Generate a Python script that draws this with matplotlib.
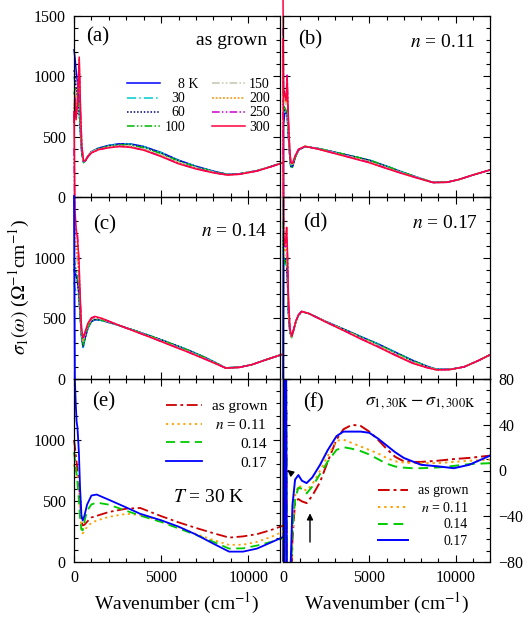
import matplotlib
matplotlib.use("Agg")
import matplotlib.pyplot as plt
from matplotlib.ticker import MultipleLocator, FixedLocator

plt.rcParams['font.family'] = ['Liberation Serif', 'DejaVu Serif']
plt.rcParams['mathtext.fontset'] = 'stix'

# ---------------- data ----------------
temps = ["8 K", "30", "60", "100", "150", "200", "250", "300"]

# panel (a) as grown
wa = [0, 60, 120, 200, 300, 380, 450, 550, 650, 800, 1000, 1400, 2000, 2600, 3200, 4000, 5000, 6000, 7000, 8000, 8800, 9500, 10500, 11300, 12000]
a_8 = [1220, 1150, 1050, 950, 800, 520, 360, 290, 300, 340, 376, 405, 428, 441, 441, 419, 369, 305, 255, 214, 188, 193, 218, 253, 286]
a_30 = [1000, 950, 880, 820, 680, 500, 350, 285, 298, 338, 374, 404, 427, 440, 440, 418, 368, 304, 254, 213, 187, 192, 218, 253, 286]
a_60 = [1050, 1000, 900, 850, 700, 520, 360, 290, 300, 340, 375, 403, 425, 438, 437, 415, 365, 302, 252, 212, 187, 192, 218, 253, 286]
a_100 = [850, 900, 820, 800, 750, 560, 370, 285, 295, 335, 370, 400, 420, 432, 430, 408, 358, 296, 248, 210, 186, 192, 218, 253, 286]
a_150 = [750, 880, 750, 850, 1000, 620, 390, 295, 305, 342, 372, 398, 415, 426, 422, 398, 348, 288, 242, 206, 185, 191, 218, 253, 286]
a_200 = [700, 850, 700, 820, 1150, 650, 400, 300, 305, 340, 370, 395, 412, 422, 418, 393, 342, 282, 238, 203, 184, 190, 217, 252, 286]
a_250 = [650, 820, 660, 780, 1100, 680, 410, 295, 300, 335, 365, 392, 410, 420, 415, 390, 338, 278, 235, 202, 183, 189, 216, 251, 285]
a_300 = [620, 800, 640, 760, 1160, 700, 420, 300, 300, 335, 365, 392, 408, 418, 412, 388, 335, 275, 232, 200, 182, 188, 215, 250, 285]

# panel (b) n = 0.11
wb = [0, 30, 100, 180, 240, 300, 380, 450, 550, 700, 900, 1275, 2000, 3000, 4000, 5000, 6000, 7000, 8000, 8700, 9500, 10200, 11000, 12000]
b_8 = [-1500, 600, 690, 700, 690, 530, 360, 255, 250, 326, 389, 417, 403, 371, 339, 305, 255, 202, 152, 121, 122, 145, 182, 224]
b_30 = [700, 700, 710, 700, 680, 540, 360, 250, 245, 325, 389, 418, 404, 372, 340, 307, 257, 203, 153, 122, 123, 145, 182, 224]
b_60 = [800, 720, 720, 700, 690, 550, 365, 255, 250, 326, 390, 418, 403, 371, 338, 304, 254, 201, 152, 121, 122, 145, 182, 224]
b_100 = [900, 760, 740, 720, 700, 560, 370, 250, 245, 325, 390, 419, 404, 372, 340, 306, 256, 202, 153, 122, 123, 145, 182, 224]
b_150 = [1000, 820, 800, 760, 850, 620, 390, 275, 272, 334, 392, 419, 401, 366, 330, 293, 244, 195, 150, 121, 122, 145, 182, 224]
b_200 = [1200, 850, 820, 780, 900, 650, 400, 280, 275, 336, 393, 420, 400, 364, 328, 290, 241, 193, 149, 120, 122, 145, 182, 224]
b_250 = [1400, 880, 840, 820, 1010, 680, 410, 285, 278, 338, 394, 420, 399, 362, 325, 287, 238, 191, 148, 120, 122, 145, 182, 224]
b_300 = [1700, 900, 850, 800, 1000, 700, 420, 290, 280, 340, 395, 420, 398, 360, 322, 284, 236, 190, 148, 120, 122, 145, 182, 224]

# panel (c) n = 0.14
wc = [0, 50, 120, 200, 280, 350, 430, 520, 620, 800, 1000, 1200, 1600, 2500, 3500, 4500, 5500, 6500, 7500, 8000, 8700, 9500, 10200, 11000, 12000]
c_8 = [900, 870, 850, 820, 700, 530, 355, 260, 328, 422, 474, 489, 483, 445, 398, 349, 296, 241, 179, 143, 92, 97, 118, 158, 205]
c_30 = [800, 750, 720, 700, 650, 520, 350, 255, 325, 420, 472, 487, 482, 445, 399, 350, 297, 242, 180, 143, 92, 97, 118, 158, 205]
c_60 = [950, 900, 850, 800, 700, 540, 360, 265, 330, 425, 476, 490, 484, 445, 398, 349, 296, 241, 179, 143, 92, 97, 118, 158, 205]
c_100 = [1000, 950, 900, 850, 750, 560, 370, 280, 340, 430, 480, 494, 486, 446, 398, 348, 295, 240, 178, 142, 92, 97, 118, 158, 205]
c_150 = [1300, 1100, 1050, 950, 850, 620, 390, 310, 365, 445, 492, 505, 492, 446, 394, 342, 287, 231, 170, 138, 91, 96, 118, 158, 205]
c_200 = [1500, 1200, 1100, 1000, 900, 650, 400, 320, 370, 450, 496, 508, 494, 446, 393, 340, 284, 228, 168, 136, 91, 96, 118, 158, 205]
c_250 = [1900, 1300, 1200, 1200, 950, 680, 410, 330, 375, 455, 500, 512, 497, 447, 392, 338, 282, 226, 166, 135, 90, 96, 118, 158, 205]
c_300 = [2200, 1400, 1250, 1150, 1000, 700, 420, 340, 380, 460, 505, 516, 500, 448, 392, 337, 280, 224, 164, 134, 90, 96, 118, 158, 205]

# panel (d) n = 0.17
wd = [0, 40, 100, 160, 210, 260, 310, 400, 500, 600, 750, 900, 1080, 1500, 2500, 3500, 4500, 5500, 6500, 7500, 8300, 8900, 9700, 10500, 11300, 12000]
d_8 = [-1500, 980, 990, 986, 950, 820, 560, 385, 350, 395, 476, 527, 556, 540, 473, 412, 350, 290, 222, 155, 108, 80, 80, 100, 150, 199]
d_30 = [1100, 950, 940, 960, 930, 800, 550, 380, 345, 393, 475, 526, 555, 540, 473, 412, 350, 290, 222, 155, 108, 80, 80, 100, 150, 199]
d_60 = [1200, 980, 960, 980, 950, 820, 560, 385, 342, 392, 474, 525, 554, 539, 472, 411, 348, 287, 219, 152, 106, 79, 79, 100, 150, 199]
d_100 = [1300, 1000, 950, 1000, 1000, 850, 580, 390, 340, 392, 474, 525, 554, 539, 472, 410, 346, 284, 216, 149, 105, 79, 79, 100, 150, 199]
d_150 = [1500, 1050, 1000, 1050, 1100, 900, 620, 400, 345, 394, 475, 526, 555, 539, 471, 406, 340, 276, 207, 141, 100, 77, 79, 100, 150, 199]
d_200 = [1800, 1100, 1050, 1100, 1248, 950, 650, 410, 348, 396, 476, 527, 555, 539, 470, 404, 337, 272, 203, 137, 98, 76, 78, 100, 150, 199]
d_250 = [2200, 1150, 1080, 1100, 1150, 1000, 680, 415, 350, 398, 478, 528, 556, 539, 469, 402, 333, 268, 199, 133, 96, 75, 78, 100, 150, 199]
d_300 = [2800, 1200, 1100, 1150, 1250, 1050, 700, 420, 354, 400, 480, 530, 558, 540, 468, 400, 330, 265, 195, 130, 95, 75, 78, 100, 150, 199]

# panel (e) T = 30 K
samples = ["as grown", "$n$ = 0.11", "0.14", "0.17"]
we = [0, 50, 100, 150, 200, 280, 350, 430, 500, 600, 750, 1000, 1300, 2000, 3000, 3800, 5000, 6000, 7000, 8000, 8900, 9700, 10500, 11300, 12000]
e_asgrown = [1000, 950, 880, 820, 750, 650, 500, 330, 300, 305, 330, 365, 378, 410, 437, 443, 376, 325, 279, 236, 200, 210, 228, 262, 298]
e_011 = [800, 760, 740, 720, 700, 600, 420, 260, 235, 255, 290, 320, 340, 370, 395, 385, 335, 285, 230, 180, 140, 142, 165, 205, 250]
e_014 = [900, 850, 780, 720, 650, 500, 350, 265, 260, 330, 420, 472, 487, 470, 420, 380, 328, 275, 222, 165, 110, 112, 135, 165, 195]
e_017 = [3000, 1500, 1300, 1150, 1100, 900, 600, 380, 340, 380, 470, 545, 553, 510, 447, 395, 342, 290, 225, 150, 85, 85, 110, 160, 205]

# panel (f) sigma1(30K) - sigma1(300K)
wf = [0, 60, 150, 250, 350, 450, 550, 700, 890, 1100, 1370, 1700, 2150, 2600, 3100, 3500, 4000, 4500, 5000, 5500, 6000, 6500, 7000, 7500, 8000, 9000, 9900, 10800, 12000]
f_asgrown = [200, -200, 200, -200, -150, -120, -60, -27, -25, -27, -28.5, -22, -10, 8, 27, 36, 40, 39, 34, 27, 19, 12, 8, 7.5, 7.5, 8.6, 10, 11, 13]
f_011 = [200, -200, 200, -200, -150, -110, -55, -22, -13, -15, -17.8, -12, 0, 13, 26, 27, 24, 21, 18, 15, 11, 8, 7, 6.5, 6.5, 6.5, 7.5, 8.5, 9.5]
f_014 = [200, -200, 200, -200, -150, -100, -50, -25, -15, -16, -20, -14, -3, 8, 18, 20.4, 19, 17, 14, 10, 6, 3.5, 2.5, 2, 2, 2.7, 4, 5.6, 6.4]
f_017 = [200, -200, 200, -200, -150, -80, -30, -8, -4, -9, -11, -6, 5, 18, 30, 34, 34, 34, 33, 28, 22, 16, 11, 8, 5, 3.6, 2, 5, 13]

# ---------------- styles ----------------
t_colors = ["#0000ff", "#00cccc", "#000080", "#00b400", "#c4c4b0", "#ff8c00", "#cc00cc", "#ff0040"]
t_styles = ["-", (0, (6, 2, 1, 2)), (0, (1, 1.2)), (0, (5, 1.5, 1, 1.5, 1, 1.5)),
            (0, (5, 1.5, 1, 1.5, 1, 1.5)), (0, (1.2, 1.2)), (0, (5, 1.5, 1, 1.5, 1, 1.5)), "-"]
s_colors = ["#cc0000", "#ffa000", "#00cc00", "#0000ff"]
s_styles = [(0, (6, 2, 1.5, 2)), (0, (1.2, 2)), (0, (5, 3)), "-"]

fig = plt.figure(figsize=(5.32, 6.32), dpi=100)
W, H = 532.0, 632.0
lx0, lx1 = 74, 280
rx0, rx1 = 283, 490
rows = [(16, 197), (197, 379), (379, 562)]

def mkax(x0, x1, y0, y1):
    ax = fig.add_axes([x0 / W, 1 - y1 / H, (x1 - x0) / W, (y1 - y0) / H])
    ax.patch.set_visible(False)
    return ax

axa = mkax(lx0, lx1, *rows[0]); axb = mkax(rx0, rx1, *rows[0])
axc = mkax(lx0, lx1, *rows[1]); axd = mkax(rx0, rx1, *rows[1])
axe = mkax(lx0, lx1, *rows[2]); axf = mkax(rx0, rx1, *rows[2])

def style(ax, left, bottom, right_labels=False):
    ax.set_xlim(0, 11820 if left else 12000)
    ax.xaxis.set_major_locator(FixedLocator([0, 5000, 10000]))
    ax.xaxis.set_minor_locator(MultipleLocator(1000))
    ax.tick_params(which='both', direction='in', top=True, right=True, left=True, bottom=True)
    ax.tick_params(which='major', length=5, width=0.8, labelsize=11.5, pad=6)
    ax.tick_params(which='minor', length=3, width=0.8)
    ax.tick_params(axis='x', labelbottom=bottom)
    ax.tick_params(axis='y', labelleft=(left and not right_labels), labelright=right_labels)
    for s in ax.spines.values():
        s.set_linewidth(0.9)

panel_data = [
    (axa, wa, [a_8, a_30, a_60, a_100, a_150, a_200, a_250, a_300]),
    (axb, wb, [b_8, b_30, b_60, b_100, b_150, b_200, b_250, b_300]),
    (axc, wc, [c_8, c_30, c_60, c_100, c_150, c_200, c_250, c_300]),
    (axd, wd, [d_8, d_30, d_60, d_100, d_150, d_200, d_250, d_300]),
]
for ax, w, series in panel_data:
    for lab, col, ls, y in zip(temps, t_colors, t_styles, series):
        ax.plot(w, y, color=col, ls=ls, lw=1.1, label=lab, clip_on=False)
    ax.set_ylim(0, 1500)
    ax.yaxis.set_major_locator(MultipleLocator(500))
    ax.yaxis.set_minor_locator(MultipleLocator(100))

for lab, col, ls, y in zip(samples, s_colors, s_styles, [e_asgrown, e_011, e_014, e_017]):
    axe.plot(we, y, color=col, ls=ls, lw=1.3, label=lab, clip_on=False)
axe.set_ylim(0, 1500)
axe.yaxis.set_major_locator(FixedLocator([0, 500, 1000]))
axe.yaxis.set_minor_locator(MultipleLocator(100))
axc.yaxis.set_major_locator(FixedLocator([0, 500, 1000]))

for lab, col, ls, y in zip(samples, s_colors, s_styles, [f_asgrown, f_011, f_014, f_017]):
    axf.plot(wf, y, color=col, ls=ls, lw=1.4, label=lab)
axf.set_ylim(-80, 80)
axf.yaxis.set_major_locator(MultipleLocator(40))
axf.yaxis.set_minor_locator(MultipleLocator(10))

style(axa, True, False); style(axb, False, False)
style(axc, True, False); style(axd, False, False)
style(axe, True, True); style(axf, False, True, right_labels=True)

for ax in (axe, axf):
    ax.set_xlabel("Wavenumber (cm$^{-1}$)", fontsize=14, labelpad=3)

fig.text(19 / W, 1 - 287 / H, r"$\sigma_1(\omega)$ ($\Omega^{-1}$cm$^{-1}$)", rotation=90,
         ha='center', va='center', fontsize=14)

# panel labels
def ptxt(ax, x, y, s, ha='left', fs=15):
    ax.text(x, y, s, transform=ax.transAxes, ha=ha, va='center', fontsize=fs)

ptxt(axa, 0.058, 0.884, "(a)"); ptxt(axa, 0.937, 0.867, "as grown", ha='right', fs=14)
ptxt(axb, 0.072, 0.867, "(b)"); ptxt(axb, 0.928, 0.856, "$n$ = 0.11", ha='right', fs=14)
ptxt(axc, 0.092, 0.846, "(c)"); ptxt(axc, 0.937, 0.808, "$n$ = 0.14", ha='right', fs=14)
ptxt(axd, 0.097, 0.857, "(d)"); ptxt(axd, 0.942, 0.857, "$n$ = 0.17", ha='right', fs=14)
ptxt(axe, 0.087, 0.874, "(e)")
ptxt(axf, 0.097, 0.869, "(f)")
ptxt(axf, 0.928, 0.869, r"$\sigma_{1,30\mathrm{K}} - \sigma_{1,300\mathrm{K}}$", ha='right', fs=13)
ptxt(axe, 0.83, 0.355, "$T$ = 30 K", ha='right', fs=14)

# arrows in (f)
axf.annotate("", xy=(1565, -35), xytext=(1565, -65),
             arrowprops=dict(arrowstyle="-|>", color='black', lw=1.0, mutation_scale=9))
axf.annotate("", xy=(120, 2), xytext=(450, -2),
             arrowprops=dict(arrowstyle="-|>", color='black', lw=1.0, mutation_scale=9))

def right_align(leg, groups, first_digit_only=()):
    fig.canvas.draw()
    r = fig.canvas.get_renderer()
    texts = leg.get_texts()
    for g in groups:
        ws = [texts[i].get_window_extent(r).width for i in g]
        wref = max(ws[k] for k, i in enumerate(g) if i not in first_digit_only)
        for k, i in enumerate(g):
            if i in first_digit_only:
                # align the number part only (the "8" of "8 K")
                shift = wref - wref / 3.0
            else:
                shift = wref - ws[k]
            texts[i].set_position((shift, 0))

lega = axa.legend(ncol=2, loc='upper right', bbox_to_anchor=(0.951, 0.656), frameon=False,
                  fontsize=10, handlelength=2.4, handletextpad=0.3, columnspacing=1.9,
                  labelspacing=0.08, borderpad=0, borderaxespad=0)
lege = axe.legend(loc='upper right', bbox_to_anchor=(0.937, 0.889), frameon=False,
                  fontsize=11, handlelength=2.3, handletextpad=0.65, labelspacing=0.33,
                  borderpad=0, borderaxespad=0)
legf = axf.legend(loc='upper right', bbox_to_anchor=(0.894, 0.4235), frameon=False,
                  fontsize=10, handlelength=2.15, handletextpad=0.7, labelspacing=0.25,
                  borderpad=0, borderaxespad=0)
right_align(lega, [[0, 1, 2, 3], [4, 5, 6, 7]], first_digit_only=(0,))
right_align(lege, [[0, 1, 2, 3]])
right_align(legf, [[0, 1, 2, 3]])

fig.savefig("out.png", dpi=100)
